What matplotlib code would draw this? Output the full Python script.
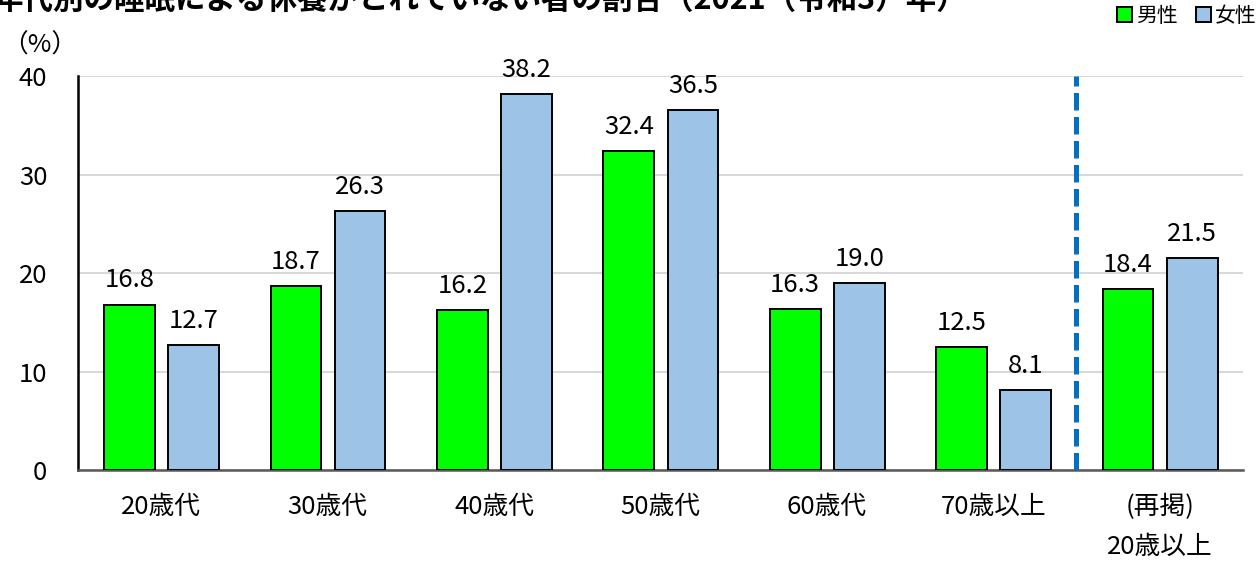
import matplotlib
matplotlib.use("Agg")
import matplotlib.pyplot as plt
import numpy as np
from matplotlib.patches import Patch

# ── data ──────────────────────────────────────────────────────────────────────
CATEGORIES = ["20歳代", "30歳代", "40歳代", "50歳代", "60歳代", "70歳以上", "(再掲)\n20歳以上"]
MALE = [16.8, 18.7, 16.2, 32.4, 16.3, 12.5, 18.4]
FEMALE = [12.7, 26.3, 38.2, 36.5, 19.0, 8.1, 21.5]
SERIES_NAMES = ["男性", "女性"]
TITLE = "年代別の睡眠による休養がとれていない者の割合（2021（令和3）年）"

plt.rcParams["font.family"] = ["Noto Sans CJK JP", "DejaVu Sans"]

GREEN = "#00FF00"
BLUE = "#9DC3E6"
FS = 18.5

fig = plt.figure(figsize=(12.58, 5.68), dpi=100)
ax = fig.add_axes([0.062, 0.1725, 0.926, 0.6937])

x = np.arange(len(CATEGORIES))
w = 0.305
b1 = ax.bar(x - 0.19, MALE, w, color=GREEN, edgecolor="black", linewidth=1.4, zorder=3)
b2 = ax.bar(x + 0.195, FEMALE, w, color=BLUE, edgecolor="black", linewidth=1.4, zorder=3)

for bars, vals in ((b1, MALE), (b2, FEMALE)):
    for r, v in zip(bars, vals):
        ax.annotate(f"{v:.1f}", xy=(r.get_x() + r.get_width() / 2, v),
                    xytext=(0, 8), textcoords="offset points",
                    ha="center", va="bottom", fontsize=FS, color="black")

# separator between age groups and the total
ax.axvline(len(CATEGORIES) - 1.5, color="#0070C0", linewidth=3.6,
           dashes=(3.5, 1.3), zorder=4)

ax.set_xlim(-0.5, len(CATEGORIES) - 0.5)
ax.set_ylim(0, 40)
ax.set_yticks([0, 10, 20, 30, 40])
ax.set_xticks(x)
ax.set_xticklabels(CATEGORIES, linespacing=1.7, va="top")
ax.tick_params(axis="x", length=0, pad=17, labelsize=FS)
ax.tick_params(axis="y", length=0, pad=22, labelsize=FS)
ax.grid(axis="y", color="#D9D9D9", linewidth=1.5, zorder=0)
ax.set_axisbelow(True)
for s in ("top", "right"):
    ax.spines[s].set_visible(False)
ax.spines["left"].set_color("black")
ax.spines["left"].set_linewidth(1.8)
ax.spines["bottom"].set_color("#595959")
ax.spines["bottom"].set_linewidth(1.8)

fig.text(0.002, 0.92, "（%）", fontsize=FS, ha="left", va="center")
fig.text(-0.006, 1.0, TITLE, fontsize=22, fontweight="bold", ha="left", va="center")

handles = [Patch(facecolor=GREEN, edgecolor="black", linewidth=1.4),
           Patch(facecolor=BLUE, edgecolor="black", linewidth=1.4)]
fig.legend(handles, SERIES_NAMES, loc="upper left", bbox_to_anchor=(0.873, 1.025),
           ncol=2, frameon=False, fontsize=15, handlelength=0.7, handleheight=0.7,
           handletextpad=0.2, columnspacing=0.9)

fig.savefig("out.png", dpi=100, facecolor="white")
